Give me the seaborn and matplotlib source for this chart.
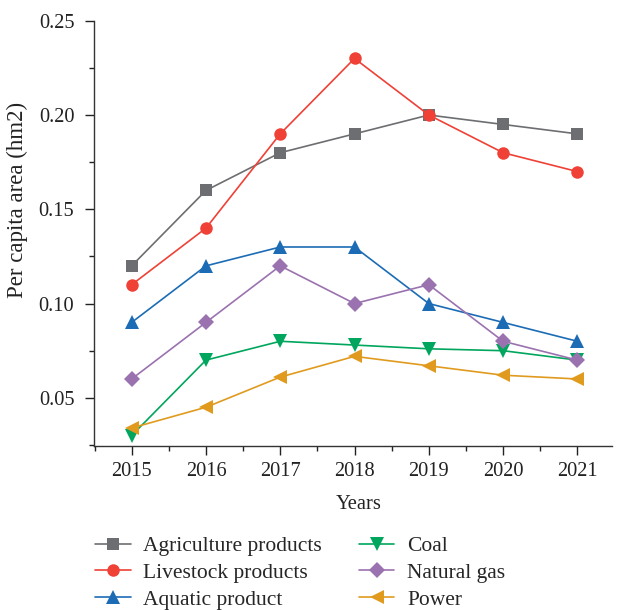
import matplotlib
matplotlib.use("Agg")
import matplotlib.pyplot as plt
import seaborn as sns
import pandas as pd
from matplotlib.ticker import MultipleLocator

years = [2015, 2016, 2017, 2018, 2019, 2020, 2021]
series_names = ["Agriculture products", "Livestock products", "Aquatic product",
                "Coal", "Natural gas", "Power"]
agriculture = [0.12, 0.16, 0.18, 0.19, 0.20, 0.195, 0.19]
livestock = [0.11, 0.14, 0.19, 0.23, 0.20, 0.18, 0.17]
aquatic = [0.09, 0.12, 0.13, 0.13, 0.10, 0.09, 0.08]
coal = [0.030, 0.070, 0.080, 0.078, 0.076, 0.075, 0.070]
natural_gas = [0.060, 0.090, 0.120, 0.100, 0.110, 0.080, 0.070]
power = [0.034, 0.045, 0.061, 0.072, 0.067, 0.062, 0.060]

values = [agriculture, livestock, aquatic, coal, natural_gas, power]
rows = []
for name, vals in zip(series_names, values):
    for y, v in zip(years, vals):
        rows.append({"Year": y, "Value": v, "Series": name})
df = pd.DataFrame(rows)

colors = ["#6d6e71", "#ef4136", "#1c6cb5", "#00a65d", "#9b72b0", "#e09b1f"]
markers = ["s", "o", "^", "v", "D", "<"]
msizes = [8, 9, 9.5, 9.5, 8, 9.5]

sns.set_style("ticks")
plt.rcParams["font.family"] = ["Liberation Serif", "DejaVu Serif"]

fig = plt.figure(figsize=(6.21, 6.10), dpi=100)
ax = fig.add_axes([0.151, 0.269, 0.835, 0.697])

for name, c, m, ms in zip(series_names, colors, markers, msizes):
    sub = df[df["Series"] == name]
    sns.lineplot(data=sub, x="Year", y="Value", ax=ax, color=c, marker=m,
                 markersize=ms, markeredgewidth=0, linewidth=1.2, label=name,
                 legend=False)

ax.set_xlim(2014.49, 2021.47)
ax.set_ylim(0.0245, 0.25)
ax.set_xticks(years)
ax.set_xticklabels([str(y) for y in years])
ax.xaxis.set_minor_locator(MultipleLocator(0.5))
ax.set_yticks([0.05, 0.10, 0.15, 0.20, 0.25])
ax.set_yticklabels(["0.05", "0.10", "0.15", "0.20", "0.25"])
ax.yaxis.set_minor_locator(MultipleLocator(0.025))
ax.tick_params(axis="both", which="major", direction="out", length=6.5, width=1,
               labelsize=14.7, colors="#222222")
ax.tick_params(axis="y", which="major", pad=7.5)
ax.tick_params(axis="x", which="major", pad=5)
ax.tick_params(axis="both", which="minor", direction="out", length=3.8, width=1,
               colors="#222222")
for s in ["top", "right"]:
    ax.spines[s].set_visible(False)
for s in ["left", "bottom"]:
    ax.spines[s].set_linewidth(1.0)
    ax.spines[s].set_color("#333333")

ax.set_xlabel("Years", fontsize=14.8, color="#222222")
ax.set_ylabel("Per capita area (hm2)", fontsize=16.5, color="#222222")
ax.xaxis.set_label_coords(0.51, -0.116)
ax.yaxis.set_label_coords(-0.127, 0.579)

handles, labels = ax.get_legend_handles_labels()
fig.legend(handles, labels, ncol=2, loc="upper left",
           bbox_to_anchor=(0.153, 1 - 536 / 610), bbox_transform=fig.transFigure,
           frameon=False, fontsize=15.5, handlelength=1.65, handletextpad=0.6,
           columnspacing=1.7, labelspacing=0.31, borderaxespad=0, borderpad=0)

fig.savefig("out.png", dpi=100, facecolor="white")
